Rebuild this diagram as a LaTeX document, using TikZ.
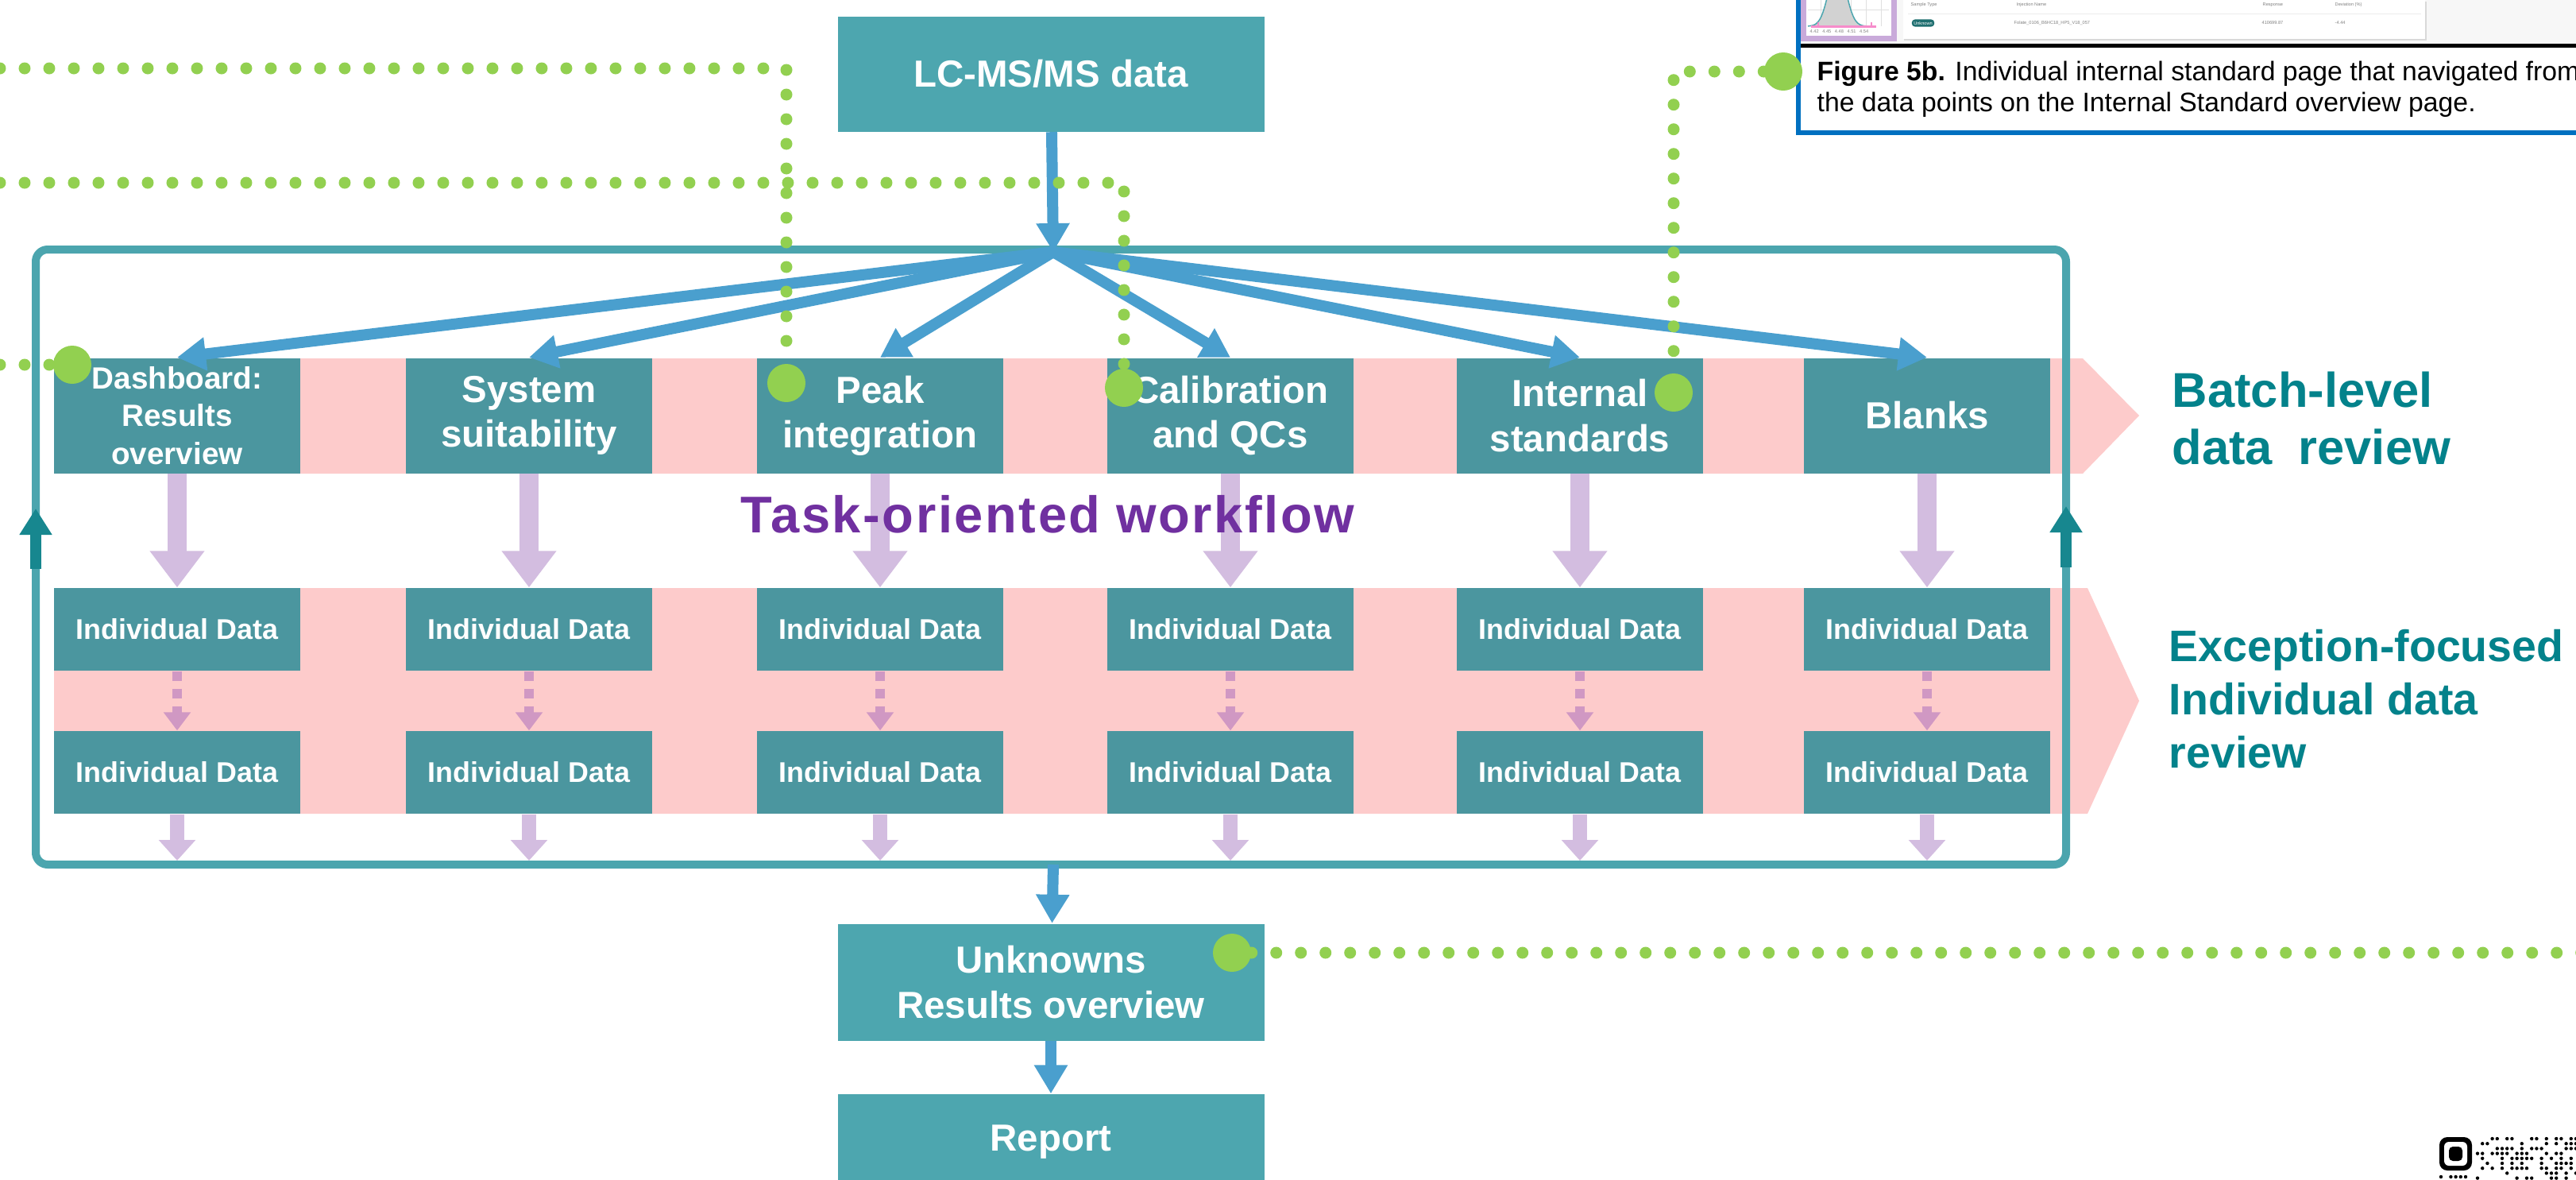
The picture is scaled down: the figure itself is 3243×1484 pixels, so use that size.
\documentclass[tikz,border=0pt]{standalone}
\usepackage{fontspec}
\setmainfont{Liberation Sans}
\usetikzlibrary{arrows.meta}

\definecolor{tealbox}{HTML}{4DA6AF}
\definecolor{tealin}{HTML}{4B969F}
\definecolor{tealframe}{HTML}{4BA5AE}
\definecolor{tealdark}{HTML}{17878F}
\definecolor{tealtext}{HTML}{03828B}
\definecolor{pinkband}{HTML}{FDCBCB}
\definecolor{flowblue}{HTML}{4A9FCE}
\definecolor{lav}{HTML}{D3BDE0}
\definecolor{lavdash}{HTML}{D098C3}
\definecolor{dotgreen}{HTML}{92D050}
\definecolor{taskpurple}{HTML}{7030A0}
\definecolor{capblue}{HTML}{0070C0}
\definecolor{thumblav}{HTML}{C9AADA}
\definecolor{pillteal}{HTML}{1F6F70}

\tikzset{
	mainbox/.style={fill=tealbox, text=white, font=\bfseries\fontsize{13.5}{16}\selectfont,
		minimum width=53.7mm, minimum height=14.5mm, inner sep=0pt, align=center},
	taskbox/.style={fill=tealin, text=white, font=\bfseries\fontsize{13.5}{16}\selectfont,
		minimum width=31mm, minimum height=14.5mm, inner sep=0pt, align=center},
	databox/.style={fill=tealin, text=white, font=\bfseries\fontsize{10.2}{12}\selectfont,
		minimum width=31mm, minimum height=10.4mm, inner sep=0pt},
	flow/.style={draw=flowblue, line width=1.4mm, -{Triangle[width=4mm,length=3.6mm]}},
	drill/.style={draw=lav, line width=2.4mm, -{Triangle[width=6.6mm,length=4.6mm]}},
	dashdrill/.style={draw=lavdash, line width=1.2mm, dash pattern=on 1.2mm off 1mm,
		-{Triangle[width=3.3mm,length=2.3mm]}},
	outdrill/.style={draw=lav, line width=1.8mm, -{Triangle[width=4.5mm,length=2.6mm]}},
	backarrow/.style={draw=tealdark, line width=1.4mm, -{Triangle[width=3.9mm,length=3.3mm]}},
	greendots/.style={draw=dotgreen, line width=1.5mm, line cap=round, dash pattern=on 0pt off 3.1mm},
	bigdot/.style={circle, fill=dotgreen, minimum size=4.8mm, inner sep=0pt},
	tinytext/.style={font=\fontsize{1.6}{2}\selectfont, text=gray, inner sep=0pt, anchor=west}
}

\begin{document}
\begin{tikzpicture}[x=0.1mm, y=-0.1mm]
	\useasboundingbox (0,0) rectangle (3243,1484);
	\clip (0,0) rectangle (3243,1484);
	\fill[white] (0,0) rectangle (3243,1484);
	
	% Draw review bands
	\fill[pinkband] (68,451) -- (2622,451) -- (2693,523) -- (2622,596) -- (68,596) -- cycle;
	\fill[pinkband] (68,740) -- (2628,740) -- (2693,882) -- (2628,1024) -- (68,1024) -- cycle;
	
	% Draw workflow frame
	\draw[tealframe, line width=1mm, rounded corners=1.5mm] (45,314) rectangle (2601,1088);
	\coordinate (hub) at (1326,317);
	\coordinate (outlet) at (1326,1088);
	\coordinate (framein) at (0,1083);
	
	% Draw main boxes
	\node[mainbox] (lcms) at (1323,93) {LC-MS/MS data};
	\node[mainbox, minimum height=14.7mm] (unk) at (1323,1236) {Unknowns\\Results overview};
	\node[mainbox, minimum height=12mm] (report) at (1323,1437) {Report};
	
	% Draw task boxes
	\node[taskbox, font=\bfseries\fontsize{11}{13.5}\selectfont] (dash) at (223,523) {Dashboard:\\Results\\overview};
	\node[taskbox] (sys) at (666,523) {System\\suitability};
	\node[taskbox] (peak) at (1108,523) {Peak\\integration};
	\node[taskbox] (cal) at (1549,523) {Calibration\\and QCs};
	\node[taskbox] (ist) at (1989,523) {Internal\\standards};
	\node[taskbox] (blk) at (2426,523) {Blanks};
	
	% Draw individual data boxes and drill-down arrows
	\foreach \c/\x in {dash/223,sys/666,peak/1108,cal/1549,ist/1989,blk/2426} {
		\node[databox] (\c1) at (\x,792) {Individual Data};
		\node[databox] (\c2) at (\x,972) {Individual Data};
		\draw[drill] (\c) -- (\c1);
		\draw[dashdrill] (\c1) -- (\c2);
		\draw[outdrill] (\c2) -- (\c2 |- framein);
	}
	
	\node[text=taskpurple, font=\bfseries\fontsize{18.5}{22}\selectfont\addfontfeatures{LetterSpace=4}] (task) at (1319,647) {Task-oriented\hspace{0.3em}workflow};
	
	% Draw flow arrows
	\draw[flow] (lcms) -- (hub);
	\foreach \c in {dash,sys,peak,cal,ist,blk}
		\draw[flow] (hub) -- (\c.north);
	\draw[flow] (outlet) -- (unk);
	\draw[flow] (unk) -- (report);
	
	% Draw loop-back arrows
	\coordinate (lup0) at (45,716);
	\coordinate (lup1) at (45,640);
	\coordinate (rup0) at (2601,714);
	\coordinate (rup1) at (2601,637);
	\draw[backarrow] (lup0) -- (lup1);
	\draw[backarrow] (rup0) -- (rup1);
	
	% Draw review labels
	\node[anchor=north west, inner sep=0pt, align=left, text=tealtext, font=\bfseries\fontsize{17.5}{20.5}\selectfont] (batch) at (2734,467) {Batch-level\\data\hspace{0.25em} review};
	\node[anchor=north west, inner sep=0pt, align=left, text=tealtext, font=\bfseries\fontsize{15.8}{19}\selectfont] (except) at (2730,792) {Exception-focused\\Individual data\\review};
	
	% Draw figure 5b snippet
	\fill[gray!6] (2266,0) rectangle (3243,55);
	\fill[thumblav] (2267,0) rectangle (2388,52);
	\fill[white] (2274,0) rectangle (2381,45);
	\foreach \gx in {2292,2311,2330,2349,2368}
		\draw[gray!25, line width=0.08mm] (\gx,0) -- (\gx,33);
	\draw[gray!25, line width=0.08mm] (2276,12) -- (2378,12);
	\draw[tealbox, fill=gray!35, line width=0.15mm] plot[smooth, domain=2276:2360, samples=40] (\x,{33-75*exp(-((\x-2313)/15)^2)});
	\draw[magenta!45, line width=0.3mm] (2280,33) -- (2362,33);
	\draw[magenta!45, line width=0.2mm] (2289,28) -- (2289,33) (2356,28) -- (2356,33);
	\node[tinytext] (ticks) at (2278,40) {4.42\ \ \ 4.45\ \ \ 4.48\ \ \ 4.51\ \ \ 4.54};
	\fill[gray!30] (2397,2) rectangle (3055,51);
	\fill[white] (2396,0) rectangle (3053,49);
	\draw[gray!15, line width=0.1mm] (2402,17) -- (3048,17);
	\node[tinytext] (h1) at (2405,6) {Sample Type};
	\node[tinytext] (h2) at (2538,6) {Injection Name};
	\node[tinytext] (h3) at (2848,6) {Response};
	\node[tinytext] (h4) at (2939,6) {Deviation (\%)};
	\node[fill=pillteal, rounded corners=0.4mm, text=white, font=\fontsize{1.6}{2}\selectfont, inner sep=0.25mm] (pill) at (2421,29) {Unknown};
	\node[tinytext] (r1) at (2535,29) {Folate\_0106\_B6HC18\_HP5\_V18\_057};
	\node[tinytext] (r2) at (2847,29) {410699.87};
	\node[tinytext] (r3) at (2939,29) {-4.44};
	\draw[black, line width=0.5mm] (2263,57) -- (3243,57);
	\draw[capblue, line width=0.6mm] (2264,-5) -- (2264,167) -- (3250,167);
	\node[anchor=north west, inner sep=0pt, align=left, font=\fontsize{9.6}{11.1}\selectfont] (caption) at (2287,76) {\textbf{Figure 5b.} Individual internal standard page that navigated from\\the data points on the Internal Standard overview page.};
	
	% Draw green link dots
	\node[bigdot] (pkdot) at (990,482) {};
	\node[bigdot] (caldot) at (1415,488) {};
	\node[bigdot] (dbdot) at (91,459) {};
	\node[bigdot] (isdot) at (2107,494) {};
	\node[bigdot] (capdot) at (2245,90) {};
	\node[bigdot] (unkdot) at (1551,1199) {};
	\coordinate (gA) at (0,86);
	\coordinate (gB) at (0,230);
	\coordinate (gC) at (0,459);
	\coordinate (gE) at (3250,1199);
	\draw[greendots] (gA) -| (pkdot);
	\draw[greendots] (gB) -| (caldot);
	\draw[greendots] (gC) -- (dbdot);
	\draw[greendots] (capdot) -| (isdot);
	\draw[greendots] (unkdot) -- (gE);
	
	% Draw QR code corner
	\fill[black, rounded corners=1mm] (3071,1431) rectangle (3112,1473);
	\fill[white, rounded corners=0.6mm] (3077,1437) rectangle (3106,1467);
	\fill[black, rounded corners=0.5mm] (3083,1443) rectangle (3100,1461);
	\pgfmathsetseed{4242}
	\foreach \i in {0,...,20}
		\foreach \j in {0,...,8} {
			\pgfmathrandominteger{\bit}{0}{1}
			\ifnum\bit=1 \fill[black] (3119+6.2*\i,1433+6.2*\j) circle[radius=0.22mm]; \fi
		}
	\foreach \i in {0,2,3,4,5}
		\fill[black] (3073+6.2*\i,1481) circle[radius=0.22mm];
	
\end{tikzpicture}
\end{document}
